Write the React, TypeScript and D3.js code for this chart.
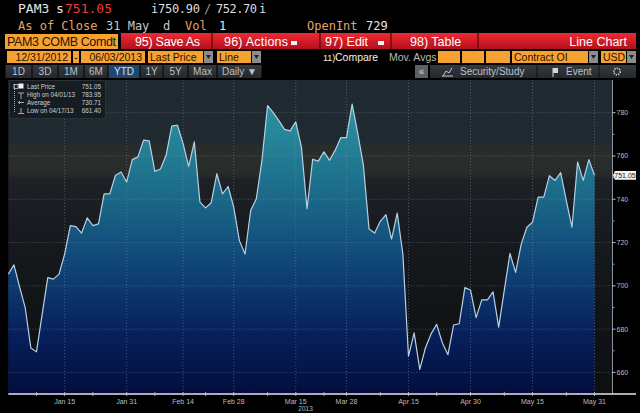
import React from "react";
import * as d3 from "d3";

// ---------- DATA ----------
const dates: string[] = [
  "12-31",
  "01-02","01-03","01-04","01-07","01-08","01-09","01-10","01-11","01-14","01-15","01-16","01-17","01-18","01-22","01-23","01-24","01-25","01-28","01-29","01-30","01-31",
  "02-01","02-04","02-05","02-06","02-07","02-08","02-11","02-12","02-13","02-14","02-15","02-19","02-20","02-21","02-22","02-25","02-26","02-27","02-28",
  "03-01","03-04","03-05","03-06","03-07","03-08","03-11","03-12","03-13","03-14","03-15","03-18","03-19","03-20","03-21","03-22","03-25","03-26","03-27","03-28",
  "04-01","04-02","04-03","04-04","04-05","04-08","04-09","04-10","04-11","04-12","04-15","04-16","04-17","04-18","04-19","04-22","04-23","04-24","04-25","04-26","04-29","04-30",
  "05-01","05-02","05-03","05-06","05-07","05-08","05-09","05-10","05-13","05-14","05-15","05-16","05-17","05-20","05-21","05-22","05-23","05-24","05-28","05-29","05-30","05-31",
];

const prices: number[] = [
  705.4, 709.7, 699.5, 689.9, 671.3, 669.5, 686.7, 703.8, 703.1, 705.4,
  714.7, 727.8, 727.4, 724.4, 731.4, 727.8, 728.6, 742.5, 742.5, 751.0,
  752.6, 748.0, 758.3, 759.6, 767.3, 767.0, 752.9, 754.0, 760.3, 773.8,
  774.3, 765.8, 755.2, 766.5, 738.7, 736.0, 738.4, 751.8, 742.5, 745.9,
  736.3, 720.9, 714.7, 734.8, 740.2, 758.0, 783.3, 780.0, 776.3, 772.3,
  771.6, 775.8, 764.2, 735.6, 758.5, 757.6, 761.9, 758.0, 762.7, 768.5,
  768.5, 783.95, 770.4, 755.7, 726.3, 724.4, 729.8, 732.9, 721.6, 733.6,
  714.7, 667.5, 678.3, 661.4, 671.3, 677.8, 682.2, 673.7, 668.2, 681.9,
  682.5, 699.2, 698.1, 685.3, 693.5, 693.5, 697.2, 680.9, 698.0, 715.0,
  706.2, 719.3, 727.1, 729.4, 741.0, 741.0, 750.9, 748.7, 752.3, 739.4,
  727.1, 757.2, 748.7, 758.3, 751.05,
];

const xTickDates = ["01-15","01-31","02-14","02-28","03-15","03-28","04-15","04-30","05-15","05-31"];
const xTickLabels = ["Jan 15","Jan 31","Feb 14","Feb 28","Mar 15","Mar 28","Apr 15","Apr 30","May 15","May 31"];
const xMinorDates = ["01-08","01-23","02-07","02-21","03-08","03-22","04-08","04-22","05-08","05-23"];
const yTicks = [660, 680, 700, 720, 740, 760, 780];
const yMinorTicks = [670, 690, 710, 730, 750, 770];

const legendLabels = ["Last Price", "High on 04/01/13", "Average", "Low on 04/17/13"];
const legendValues = ["751.05", "783.95", "730.71", "661.40"];

const periodButtons = ["1D", "3D", "1M", "6M", "YTD", "1Y", "5Y", "Max", "Daily ▼"];

// ---------- COMPONENT ----------
export default function App() {
  const left = 8.3;
  const right = 594.5;
  const plotTop = 80;
  const plotBottom = 393;
  const axisX = 612.5;

  const x = d3.scaleLinear().domain([0, dates.length - 1]).range([left, right]);
  const y = d3.scaleLinear().domain([650.5, 795.1]).range([plotBottom, plotTop]);
  const idx = (d: string) => dates.indexOf(d);

  const area = d3
    .area<number>()
    .x((_, i) => x(i))
    .y0(plotBottom)
    .y1((d) => y(d));
  const line = d3
    .line<number>()
    .x((_, i) => x(i))
    .y((d) => y(d));

  const last = prices[prices.length - 1];
  const mono = "'DejaVu Sans Mono', monospace";
  const sans = "'Liberation Sans', Arial, sans-serif";

  const btnEdges = [5, 32, 58, 84, 108, 140, 163, 188, 217, 262];

  return (
    <>
      <style>{"body{margin:0;background:#000}"}</style>
      <svg width={640} height={413} style={{ display: "block", background: "#000" }}>
        <defs>
          <linearGradient id="bgGrad" gradientUnits="userSpaceOnUse" x1="0" y1={plotTop} x2="0" y2={plotBottom}>
            <stop offset="0" stopColor="#1e2a31" />
            <stop offset="0.2" stopColor="#1f2a30" />
            <stop offset="0.215" stopColor="#292d2a" />
            <stop offset="0.3" stopColor="#272b2b" />
            <stop offset="0.32" stopColor="#1d2126" />
            <stop offset="0.55" stopColor="#15181c" />
            <stop offset="1" stopColor="#0d0f11" />
          </linearGradient>
          <linearGradient id="fillGrad" gradientUnits="userSpaceOnUse" x1="0" y1={95} x2="0" y2={plotBottom}>
            <stop offset="0" stopColor="#2f97a4" />
            <stop offset="0.3" stopColor="#1d6f8b" />
            <stop offset="0.55" stopColor="#104879" />
            <stop offset="0.8" stopColor="#07205c" />
            <stop offset="1" stopColor="#030e3e" />
          </linearGradient>
          <linearGradient id="redGrad" x1="0" y1="0" x2="0" y2="1">
            <stop offset="0" stopColor="#ee2a34" />
            <stop offset="1" stopColor="#b3101c" />
          </linearGradient>
          <linearGradient id="btnGrad" x1="0" y1="0" x2="0" y2="1">
            <stop offset="0" stopColor="#353a40" />
            <stop offset="1" stopColor="#24282c" />
          </linearGradient>
        </defs>

        {/* ---------- Header row 1 ---------- */}
        <g fontFamily={mono}>
          <text x={18} y={13} fill="#e6e6e6" fontSize={13}>PAM3</text>
          <text x={56} y={13} fill="#e6e6e6" fontSize={13}>s</text>
          <text x={65} y={13} fill="#ec3b3b" fontSize={13} textLength={47}>751.05</text>
          <text x={151} y={13} fill="#dcdcdc" fontSize={12}>i</text>
          <text x={158} y={13} fill="#dcdcdc" fontSize={12} textLength={42}>750.90</text>
          <text x={204} y={13} fill="#9a9a9a" fontSize={12}>/</text>
          <text x={216} y={13} fill="#dcdcdc" fontSize={12} textLength={41}>752.70</text>
          <text x={259} y={13} fill="#dcdcdc" fontSize={12}>i</text>
        </g>
        {/* ---------- Header row 2 ---------- */}
        <g fontFamily={mono} fontSize={12}>
          <text x={18} y={30} fill="#e2a468">As of Close</text>
          <text x={106} y={30} fill="#c8c8c8">31 May</text>
          <text x={163} y={30} fill="#c8c8c8">d</text>
          <text x={185} y={30} fill="#e2a468">Vol</text>
          <text x={219} y={30} fill="#e6e6e6">1</text>
          <text x={307} y={30} fill="#e2a468">OpenInt</text>
          <text x={366} y={30} fill="#e6e6e6">729</text>
        </g>

        {/* ---------- Toolbar row 3 ---------- */}
        <rect x={5} y={34} width={113} height={15} fill="#f6a233" />
        <text x={7} y={46} fontFamily={sans} fontSize={12.5} fill="#2b1200" textLength={109}>PAM3 COMB Comdt</text>
        <rect x={121} y={33} width={515} height={16} fill="url(#redGrad)" />
        {[212, 320, 391, 478].map((sx) => (
          <line key={sx} x1={sx} x2={sx} y1={33} y2={49} stroke="#6e0a12" strokeWidth={1.5} />
        ))}
        <g fontFamily={sans} fontSize={12.5} fill="#ffffff">
          <text x={135} y={46} textLength={65}>95) Save As</text>
          <text x={224} y={46} textLength={64}>96) Actions</text>
          <rect x={291} y={41} width={6} height={4} fill="#f0f0f0" />
          <text x={325} y={46}>97) Edit</text>
          <rect x={378} y={41} width={6} height={4} fill="#f0f0f0" />
          <text x={410} y={46}>98) Table</text>
          <text x={627} y={46} textAnchor="end">Line Chart</text>
        </g>

        {/* ---------- Row 4 ---------- */}
        <g fontFamily={sans} fontSize={10.5} fill="#2b1200">
          <rect x={7} y={51} width={64} height={12} fill="#f6a233" />
          <text x={68} y={61} textAnchor="end">12/31/2012</text>
          <rect x={73} y={51} width={6} height={12} fill="#f6a233" />
          <text x={74} y={61}>-</text>
          <rect x={81} y={51} width={64} height={12} fill="#f6a233" />
          <text x={142} y={61} textAnchor="end">06/03/2013</text>
          <rect x={148} y={51} width={55} height={12} fill="#f6a233" />
          <text x={150} y={61}>Last Price</text>
          <rect x={204} y={51} width={9} height={12} fill="#8c8c8c" />
          <path d="M206,55 L211,55 L208.5,59 Z" fill="#222" />
          <rect x={217} y={51} width={34} height={12} fill="#f6a233" />
          <text x={219} y={61}>Line</text>
          <rect x={252} y={51} width={9} height={12} fill="#8c8c8c" />
          <path d="M254,55 L259,55 L256.5,59 Z" fill="#222" />
          <text x={323} y={61} fill="#f0f0f0" fontSize={9}>11)</text>
          <text x={335} y={61} fill="#f0f0f0">Compare</text>
          <text x={389} y={61} fill="#b8b8b8">Mov. Avgs</text>
          <rect x={438} y={51} width={22} height={12} fill="#f6a233" />
          <rect x={462} y={51} width={22} height={12} fill="#f6a233" />
          <rect x={486} y={51} width={24} height={12} fill="#f6a233" />
          <rect x={512} y={51} width={76} height={12} fill="#f6a233" />
          <text x={514} y={61}>Contract OI</text>
          <rect x={589} y={51} width={9} height={12} fill="#8c8c8c" />
          <path d="M591,55 L596,55 L593.5,59 Z" fill="#222" />
          <rect x={601} y={51} width={25} height={12} fill="#f6a233" />
          <text x={603} y={61}>USD</text>
          <rect x={627} y={51} width={9} height={12} fill="#8c8c8c" />
          <path d="M629,55 L634,55 L631.5,59 Z" fill="#222" />
        </g>

        {/* ---------- Row 5 ---------- */}
        <g fontFamily={sans} fontSize={10}>
          {periodButtons.map((b, i) => {
            const x0 = btnEdges[i];
            const x1 = btnEdges[i + 1];
            const active = b === "YTD";
            return (
              <g key={b}>
                <rect x={x0 + 0.5} y={65} width={x1 - x0 - 1} height={13} fill={active ? "#23466c" : "url(#btnGrad)"} />
                <text x={(x0 + x1) / 2} y={75} textAnchor="middle" fill={active ? "#cfe3ff" : "#b9c2cc"}>{b}</text>
              </g>
            );
          })}
          <rect x={415} y={65} width={13} height={13} fill="#5c6166" />
          <text x={421.5} y={75} textAnchor="middle" fill="#d8d8d8">«</text>
          <rect x={430} y={65} width={206} height={13} fill="url(#btnGrad)" />
          <line x1={537} x2={537} y1={65} y2={78} stroke="#111" />
          <line x1={599} x2={599} y1={65} y2={78} stroke="#111" />
          <path d="M443,76 L446,71 L449,73 L452,68 M442,76 L453,76" stroke="#c0c8d0" fill="none" strokeWidth={1} />
          <text x={460} y={75} fill="#b9c2cc">Security/Study</text>
          <rect x={553} y={68} width={5} height={5} fill="#d0d6dc" />
          <line x1={553} x2={553} y1={68} y2={77} stroke="#d0d6dc" />
          <text x={566} y={75} fill="#b9c2cc">Event</text>
          <circle cx={617} cy={71.5} r={3.2} fill="none" stroke="#c0c8d0" strokeWidth={1.6} strokeDasharray="1.4,1" />
        </g>

        {/* ---------- Plot ---------- */}
        <rect x={left} y={plotTop} width={axisX - left} height={plotBottom - plotTop} fill="url(#bgGrad)" />
        <path d={area(prices) || ""} fill="url(#fillGrad)" />

        {/* grid */}
        <g stroke="#8a97a2" strokeOpacity={0.45} strokeDasharray="1,2" strokeWidth={1}>
          {yTicks.map((t) => (
            <line key={t} x1={left} x2={axisX} y1={y(t)} y2={y(t)} />
          ))}
          {xTickDates.map((d) => (
            <line key={d} x1={x(idx(d))} x2={x(idx(d))} y1={plotTop} y2={plotBottom} />
          ))}
        </g>

        <path d={line(prices) || ""} fill="none" stroke="#b8d0e2" strokeWidth={1.2} strokeLinejoin="round" />

        {/* legend */}
        <rect x={9.5} y={80.5} width={96} height={38} fill="#151b20" fillOpacity={0.88} stroke="#2a3238" />
        <g fontFamily={sans} fontSize={6.3} fill="#c9ced3">
          {legendLabels.map((l, i) => (
            <g key={l}>
              <text x={27} y={88.5 + i * 8.2}>{l}</text>
              <text x={101} y={88.5 + i * 8.2} textAnchor="end">{legendValues[i]}</text>
            </g>
          ))}
        </g>
        <g stroke="#c9ced3" fill="none" strokeWidth={0.8}>
          <line x1={14.5} x2={14.5} y1={85} y2={113} strokeDasharray="1,1" />
          <rect x={14} y={84.5} width={4} height={4} />
          <rect x={18.5} y={83.5} width={5} height={5} fill="#f2f2f2" stroke="none" />
          <path d="M18,93 L24,93 M21,93 L21,99" />
          <path d="M18,102.5 L24,102.5 M20,101 L18.5,102.5 L20,104" />
          <path d="M21,108 L21,113 M18,113.5 L24,113.5" />
        </g>

        {/* right axis */}
        <line x1={axisX} x2={axisX} y1={plotTop} y2={plotBottom} stroke="#8c959c" strokeWidth={1} />
        <g fontFamily={sans} fontSize={7} fill="#b8bec4">
          {yTicks.map((t) => (
            <g key={t}>
              <line x1={axisX} x2={axisX + 3} y1={y(t)} y2={y(t)} stroke="#b8bec4" />
              <text x={axisX + 4} y={y(t) + 2.5}>{t}</text>
            </g>
          ))}
          {yMinorTicks.map((t) => (
            <line key={t} x1={axisX} x2={axisX + 2} y1={y(t)} y2={y(t)} stroke="#8c959c" />
          ))}
        </g>
        {/* last price tag */}
        <path d={`M${axisX + 0.5},${y(last)} L${axisX + 2.5},${y(last) - 4.3} L636,${y(last) - 4.3} L636,${y(last) + 4.3} L${axisX + 2.5},${y(last) + 4.3} Z`} fill="#f4f4f4" />
        <text x={625} y={y(last) + 2.5} textAnchor="middle" fontFamily={sans} fontSize={7} fill="#1a1a1a">{last.toFixed(2)}</text>

        {/* bottom axis */}
        <line x1={left} x2={636} y1={394} y2={394} stroke="#a9aeb3" strokeWidth={2} />
        {xMinorDates.map((d) => (
          <line key={d} x1={x(idx(d))} x2={x(idx(d))} y1={392} y2={396} stroke="#c4c8cc" strokeWidth={0.8} />
        ))}
        {xTickDates.map((d) => (
          <line key={"m" + d} x1={x(idx(d))} x2={x(idx(d))} y1={392} y2={396} stroke="#c4c8cc" strokeWidth={0.8} />
        ))}
        <g fontFamily={sans} fontSize={7} fill="#b8bec4">
          {xTickDates.map((d, i) => (
            <text key={d} x={x(idx(d))} y={404} textAnchor="middle">{xTickLabels[i]}</text>
          ))}
          <text x={x(idx("03-15")) + 17} y={411} textAnchor="end" fontSize={6.5}>2013</text>
        </g>
      </svg>
    </>
  );
}
